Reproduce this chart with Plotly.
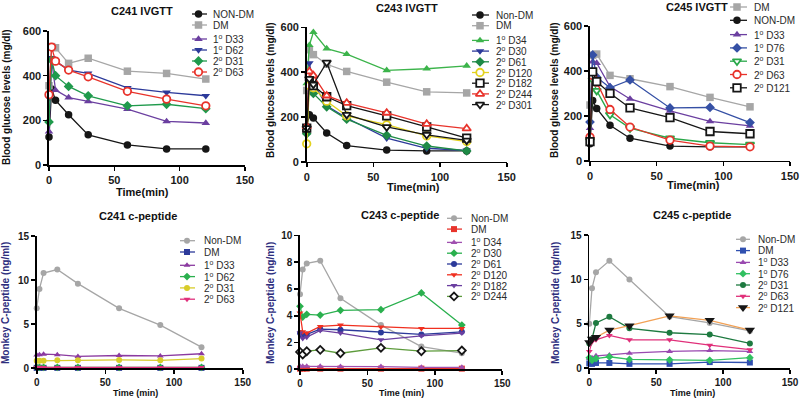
import plotly.graph_objects as go

W, H = 800, 401
FONT = "Liberation Sans, Arial, Helvetica, sans-serif"

# ---------------- data ----------------
TIME = [0, 2, 5, 15, 30, 60, 90, 120]
X_TICKS = [0, 50, 100, 150]
GLU_TICKS = [0, 200, 400, 600]
CP15_TICKS = [0, 5, 10, 15]
CP10_TICKS = [0, 2, 4, 6, 8, 10]

# C241 IVGTT
C241_GLU_LABELS = ["NON-DM", "DM", "1<sup>o</sup> D33", "1<sup>o</sup> D62", "2<sup>o</sup> D31", "2<sup>o</sup> D63"]
C241_GLU_VALUES = [
    [125, 340, 290, 225, 135, 90, 72, 72],
    [355, 530, 525, 455, 478, 420, 410, 385],
    [150, 470, 335, 302, 285, 250, 195, 188],
    [300, 480, 465, 425, 410, 345, 325, 310],
    [193, 470, 400, 352, 310, 265, 272, 252],
    [315, 528, 465, 425, 395, 330, 295, 265],
]

# C243 IVGTT
C243_GLU_LABELS = ["Non-DM", "DM", "1<sup>o</sup> D34", "2<sup>o</sup> D30", "2<sup>o</sup> D61",
                   "2<sup>o</sup> D120", "2<sup>o</sup> D182", "2<sup>o</sup> D244", "2<sup>o</sup> D301"]
C243_GLU_VALUES = [
    [155, 210, 195, 128, 72, 52, 48, 48],
    [318, 500, 478, 435, 403, 355, 312, 307],
    [350, 520, 578, 505, 480, 408, 415, 428],
    [120, 440, 350, 250, 195, 105, 60, 50],
    [125, 350, 305, 245, 190, 118, 70, 48],
    [80, 340, 330, 270, 205, 165, 115, 90],
    [150, 380, 340, 290, 250, 205, 155, 105],
    [158, 403, 385, 295, 262, 218, 168, 148],
    [150, 370, 345, 443, 210, 155, 120, 95],
]

# C245 IVGTT
C245_GLU_LABELS = ["DM", "NON-DM", "1<sup>o</sup> D33", "1<sup>o</sup> D76", "2<sup>o</sup> D31",
                   "2<sup>o</sup> D63", "2<sup>o</sup> D121"]
C245_GLU_VALUES = [
    [248, 470, 475, 380, 365, 330, 282, 240],
    [75, 268, 233, 158, 100, 65, 62, 62],
    [145, 441, 435, 330, 275, 222, 175, 155],
    [172, 471, 372, 325, 360, 235, 237, 170],
    [90, 360, 312, 205, 145, 100, 80, 72],
    [105, 380, 350, 228, 150, 92, 65, 62],
    [85, 396, 352, 300, 235, 192, 130, 120],
]

# C241 c-peptide
C241_CP_LABELS = ["Non-DM", "DM", "1<sup>o</sup> D33", "1<sup>o</sup> D62", "2<sup>o</sup> D31", "2<sup>o</sup> D63"]
C241_CP_VALUES = [
    [6.8, 9.0, 10.8, 11.2, 9.6, 6.8, 4.9, 2.4],
    [0.05, 0.05, 0.05, 0.05, 0.05, 0.05, 0.05, 0.05],
    [1.5, 1.55, 1.6, 1.55, 1.35, 1.45, 1.4, 1.65],
    [0.1, 0.1, 0.1, 0.1, 0.1, 0.1, 0.1, 0.1],
    [0.85, 0.85, 0.85, 0.9, 0.9, 0.95, 0.9, 1.1],
    [0.1, 0.12, 0.1, 0.1, 0.1, 0.1, 0.1, 0.1],
]

# C243 c-peptide
C243_CP_LABELS = ["Non-DM", "DM", "1<sup>o</sup> D34", "2<sup>o</sup> D30", "2<sup>o</sup> D61",
                  "2<sup>o</sup> D120", "2<sup>o</sup> D182", "2<sup>o</sup> D244"]
C243_CP_VALUES = [
    [5.6, 7.45, 7.9, 8.1, 5.3, 3.3, 1.7, 1.2],
    [0.05, 0.05, 0.05, 0.05, 0.05, 0.05, 0.05, 0.05],
    [0.22, 0.22, 0.22, 0.22, 0.2, 0.2, 0.15, 0.15],
    [4.7, 3.9, 4.1, 4.05, 4.4, 4.45, 5.7, 3.3],
    [2.7, 2.5, 2.6, 3.0, 2.95, 2.75, 2.6, 2.8],
    [4.2, 2.8, 2.7, 3.2, 3.3, 3.15, 3.05, 3.05],
    [2.7, 2.3, 2.4, 2.9, 2.7, 2.2, 2.5, 2.7],
    [1.3, 1.1, 1.35, 1.45, 1.2, 1.6, 1.35, 1.4],
]

# C245 c-peptide
C245_CP_LABELS = ["Non-DM", "DM", "1<sup>o</sup> D33", "1<sup>o</sup> D76", "2<sup>o</sup> D31",
                  "2<sup>o</sup> D63", "2<sup>o</sup> D121"]
C245_CP_VALUES = [
    [5.0, 9.0, 10.8, 12.1, 10.0, 5.8, 5.1, 4.2],
    [0.55, 0.5, 0.6, 0.6, 0.5, 0.5, 0.7, 0.65],
    [1.1, 1.2, 1.4, 1.5, 1.7, 1.9, 2.0, 1.9],
    [1.2, 0.9, 1.1, 1.3, 1.0, 0.95, 0.9, 1.2],
    [2.8, 3.3, 5.1, 5.8, 4.5, 4.0, 3.8, 2.8],
    [1.9, 3.0, 3.2, 3.7, 3.2, 3.2, 2.6, 2.1],
    [2.9, 3.3, 3.5, 4.3, 4.8, 5.9, 5.4, 4.3],
]

# ---------------- styles ----------------
BLACK = "#161616"
GREY = "#a6a6a6"
PURPLE = "#6b3fa0"
NAVY = "#2c3a9a"
GREEN = "#1f9a4c"
RED = "#e8332b"

P1_STYLE = dict(colors=[BLACK, GREY, PURPLE, NAVY, GREEN, RED],
                symbols=["circle", "square", "triangle-up", "triangle-down", "diamond", "circle"],
                opens=[False, False, False, False, False, True])
P2_STYLE = dict(colors=[BLACK, GREY, "#3cb44b", NAVY, "#1e8a46", "#e3d21e", BLACK, RED, BLACK],
                symbols=["circle", "square", "triangle-up", "triangle-down", "diamond", "circle",
                         "square", "triangle-up", "triangle-down"],
                opens=[False, False, False, False, False, True, True, True, True])
P3_STYLE = dict(colors=[GREY, BLACK, PURPLE, "#3550a5", "#2aa84a", RED, BLACK],
                symbols=["square", "circle", "triangle-up", "diamond", "triangle-down", "circle", "square"],
                opens=[False, False, False, False, True, True, True])
P4_STYLE = dict(colors=[GREY, NAVY, "#8b3aa0", "#2ab04e", "#d8cc2a", "#e0307c"],
                symbols=["circle", "square", "triangle-up", "diamond", "circle", "triangle-down"],
                opens=[False] * 6)
P5_STYLE = dict(colors=[GREY, RED, "#a050b0", "#2ab04e", NAVY, "#f03020", "#6b3fa0", BLACK],
                symbols=["circle", "square", "triangle-up", "diamond", "circle", "triangle-down",
                         "triangle-down", "diamond"],
                opens=[False] * 7 + [True],
                linecolors=[GREY, RED, "#a050b0", "#2ab04e", NAVY, "#f03020", "#6b3fa0", "#5d9b3c"])
P6_STYLE = dict(colors=[GREY, "#3050b0", "#9a4ab0", "#30c060", "#1e7a40", "#e0307a", BLACK],
                symbols=["circle", "square", "triangle-up", "diamond", "circle", "triangle-down", "triangle-down"],
                opens=[False] * 7,
                linecolors=[GREY, "#3050b0", "#9a4ab0", "#30c060", "#1e7a40", "#e0307a", "#f2a155"],
                sizes=[6, 6, 6, 6, 6, 6, 9])

fig = go.Figure()
annotations = []
layout = {}


def px_x(p):
    return p / W


def px_y(p):
    return 1 - p / H


def add_panel(n, box, ymax, yticks, labels, values, style, msize, tickfs):
    x0, x1, ytop, ybot = box
    colors = style["colors"]
    linecolors = style.get("linecolors", colors)
    sizes = style.get("sizes", [msize] * len(labels))
    for i, vals in enumerate(values):
        col = colors[i]
        op = style["opens"][i]
        fig.add_trace(go.Scatter(
            x=TIME, y=vals, xaxis=f"x{n}", yaxis=f"y{n}", mode="lines+markers",
            line=dict(color=linecolors[i], width=1.3),
            marker=dict(symbol=style["symbols"][i], size=sizes[i],
                        color="white" if op else col,
                        line=dict(color=col, width=1.8 if op else 0)),
            cliponaxis=False, showlegend=False, hoverinfo="skip", name=labels[i]))
    axis_common = dict(showline=True, linecolor="black", linewidth=1.6, ticks="outside",
                       ticklen=4, tickwidth=1.6, tickcolor="black", showgrid=False,
                       zeroline=False, fixedrange=True,
                       tickfont=dict(family=FONT, size=tickfs, color="#1a1a1a", weight="bold"))
    layout[f"xaxis{n}"] = dict(domain=[px_x(x0), px_x(x1)], range=[0, 150], tickvals=X_TICKS,
                               anchor=f"y{n}", **axis_common)
    layout[f"yaxis{n}"] = dict(domain=[px_y(ybot), px_y(ytop)], range=[0, ymax], tickvals=yticks,
                               anchor=f"x{n}", **axis_common)


def add_legend(labels, style, msize, xl0, xm, xl1, xt, y0, sp, gap, fs):
    colors = style["colors"]
    linecolors = style.get("linecolors", colors)
    sizes = style.get("sizes", [msize] * len(labels))
    for i, lab in enumerate(labels):
        y = y0 + i * sp + (gap if "<sup>" in lab else 0)
        op = style["opens"][i]
        fig.add_trace(go.Scatter(
            x=[xl0, xm, xl1], y=[y, y, y], xaxis="x7", yaxis="y7", mode="lines+markers",
            line=dict(color=linecolors[i], width=1.3),
            marker=dict(symbol=style["symbols"][i], size=sizes[i], opacity=[0, 1, 0],
                        color="white" if op else colors[i],
                        line=dict(color=colors[i], width=1.8 if op else 0)),
            cliponaxis=False, showlegend=False, hoverinfo="skip"))
        annotations.append(dict(x=px_x(xt), y=px_y(y), xref="paper", yref="paper", text=lab,
                                showarrow=False, xanchor="left", yanchor="middle",
                                font=dict(family=FONT, size=fs, color="#2a2a2a")))


def add_text(text, cx, cy, size, color="#111111", angle=0):
    annotations.append(dict(x=px_x(cx), y=px_y(cy), xref="paper", yref="paper", text=text,
                            showarrow=False, xanchor="center", yanchor="middle", textangle=angle,
                            font=dict(family=FONT, size=size, color=color, weight="bold")))


# panels: box = (x at 0, x at 150, y at ymax, y at 0) in pixels
add_panel(1, (49, 245, 31, 165), 600, GLU_TICKS, C241_GLU_LABELS, C241_GLU_VALUES, P1_STYLE, 7.5, 11)
add_panel(2, (306.7, 506.7, 27.3, 161.7), 600, GLU_TICKS, C243_GLU_LABELS, C243_GLU_VALUES, P2_STYLE, 7.5, 11)
add_panel(3, (590, 790, 26, 160.7), 600, GLU_TICKS, C245_GLU_LABELS, C245_GLU_VALUES, P3_STYLE, 7.5, 11)
add_panel(4, (36.7, 242.7, 236, 368.3), 15, CP15_TICKS, C241_CP_LABELS, C241_CP_VALUES, P4_STYLE, 6, 10)
add_panel(5, (300, 502.3, 235.3, 369.3), 10, CP10_TICKS, C243_CP_LABELS, C243_CP_VALUES, P5_STYLE, 6, 10)
add_panel(6, (589.3, 790, 235, 368.3), 15, CP15_TICKS, C245_CP_LABELS, C245_CP_VALUES, P6_STYLE, 6, 10)

# legends
add_legend(C241_GLU_LABELS, P1_STYLE, 7.5, 192, 198.5, 207, 211, 14, 11, 3, 10)
add_legend(C243_GLU_LABELS, P2_STYLE, 7.5, 472, 480, 489, 494, 15, 10.7, 4, 10)
add_legend(C245_GLU_LABELS, P3_STYLE, 7.5, 730, 737, 747, 752, 7, 13.3, 1, 10)
add_legend(C241_CP_LABELS, P4_STYLE, 6, 180, 187, 195, 202, 240.7, 11.3, 2, 10)
add_legend(C243_CP_LABELS, P5_STYLE, 6, 447, 454, 462, 469, 218.3, 10.8, 2.5, 10)
add_legend(C245_CP_LABELS, P6_STYLE, 6, 736, 743, 750, 756, 239.3, 11.3, 0.5, 10)

# titles
add_text("C241 IVGTT", 142, 11, 11)
add_text("C243 IVGTT", 407, 8, 11)
add_text("C245 IVGTT", 697, 7, 11)
add_text("C241 c-peptide", 138, 216, 11)
add_text("C243 c-peptide", 400, 215, 11)
add_text("C245 c-peptide", 692, 215, 11)

# axis titles
add_text("Time(min)", 142, 192, 11)
add_text("Time(min)", 413, 187, 11)
add_text("Time(min)", 693, 185, 11)
add_text("Time (min)", 135, 393, 9)
add_text("Time (min)", 402, 393, 9)
add_text("Time (min)", 692, 393, 9)
add_text("Blood glucose levels (mg/dl)", 6, 97, 10, angle=-90)
add_text("Blood glucose levels (mg/dl)", 270, 90, 10, angle=-90)
add_text("Blood glucose levels (mg/dl)", 554, 90, 10, angle=-90)
CP_COLOR = "#2e2e7e"
add_text("Monkey C-peptide (ng/ml)", 5, 303, 10, color=CP_COLOR, angle=-90)
add_text("Monkey C-peptide (ng/ml)", 270, 303, 10, color=CP_COLOR, angle=-90)
add_text("Monkey C-peptide (ng/ml)", 555, 303, 10, color=CP_COLOR, angle=-90)

layout["xaxis7"] = dict(domain=[0, 1], range=[0, W], visible=False, showticklabels=False,
                        fixedrange=True, anchor="y7")
layout["yaxis7"] = dict(domain=[0, 1], range=[H, 0], visible=False, showticklabels=False,
                        fixedrange=True, anchor="x7")

fig.update_layout(
    width=W, height=H, autosize=False,
    margin=dict(l=0, r=0, t=0, b=0, pad=0),
    paper_bgcolor="white", plot_bgcolor="rgba(0,0,0,0)",
    showlegend=False, template="none",
    font=dict(family=FONT, color="#111111"),
    annotations=annotations,
    **layout,
)

fig.write_html("out.html", config={"displayModeBar": False, "staticPlot": True},
               post_script="document.body.style.margin='0px';document.body.style.padding='0px';")
